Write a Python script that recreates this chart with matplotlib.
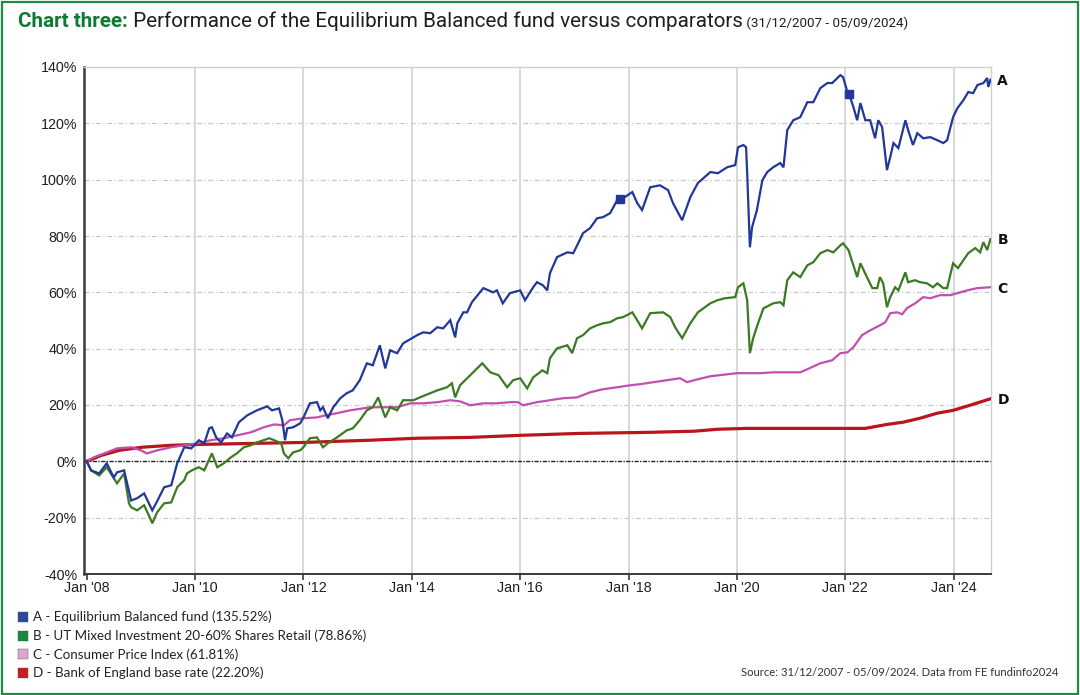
"""Chart three: Equilibrium Balanced fund vs comparators, 31/12/2007 - 05/09/2024."""
import matplotlib
matplotlib.use("Agg")
import matplotlib.pyplot as plt
import numpy as np
from matplotlib.patches import Rectangle

# ---------------------------------------------------------------- data (%)
# A - Equilibrium Balanced fund
t_a = [2008.00, 2008.08, 2008.23, 2008.37, 2008.50, 2008.56, 2008.69, 2008.82,
       2008.93, 2009.06, 2009.21, 2009.28, 2009.43, 2009.56, 2009.67, 2009.80,
       2009.93, 2010.07, 2010.17, 2010.26, 2010.31, 2010.39, 2010.48, 2010.59,
       2010.68, 2010.81, 2010.96, 2011.14, 2011.33, 2011.42, 2011.55, 2011.61,
       2011.66, 2011.70, 2011.81, 2011.94, 2012.00, 2012.12, 2012.25, 2012.31,
       2012.36, 2012.45, 2012.55, 2012.68, 2012.80, 2012.91, 2013.04, 2013.17,
       2013.28, 2013.41, 2013.51, 2013.60, 2013.73, 2013.84, 2014.10, 2014.21,
       2014.34, 2014.47, 2014.58, 2014.71, 2014.80, 2014.84, 2014.95, 2015.02,
       2015.11, 2015.32, 2015.50, 2015.57, 2015.68, 2015.81, 2016.00, 2016.09,
       2016.24, 2016.31, 2016.42, 2016.50, 2016.55, 2016.68, 2016.87, 2016.98,
       2017.07, 2017.16, 2017.29, 2017.42, 2017.53, 2017.66, 2017.79, 2017.90,
       2018.07, 2018.16, 2018.25, 2018.40, 2018.58, 2018.73, 2018.82, 2018.99,
       2019.14, 2019.28, 2019.51, 2019.65, 2019.82, 2019.97, 2020.02, 2020.12,
       2020.17, 2020.19, 2020.24, 2020.28, 2020.37, 2020.47, 2020.56, 2020.67,
       2020.80, 2020.86, 2020.93, 2021.04, 2021.17, 2021.30, 2021.41, 2021.54,
       2021.67, 2021.76, 2021.91, 2021.96, 2022.04, 2022.09, 2022.15, 2022.22,
       2022.28, 2022.37, 2022.46, 2022.55, 2022.61, 2022.68, 2022.77, 2022.83,
       2022.89, 2022.98, 2023.11, 2023.16, 2023.25, 2023.33, 2023.44, 2023.57,
       2023.70, 2023.81, 2023.88, 2023.99, 2024.07, 2024.18, 2024.27, 2024.36,
       2024.44, 2024.55, 2024.62, 2024.64, 2024.68]
v_a = [0.0, -3.2, -4.3, -0.7, -5.7, -3.9, -3.2, -13.9,
       -13.1, -11.4, -17.4, -14.9, -9.2, -8.5, -0.7, 5.0,
       4.6, 7.5, 6.4, 11.7, 12.1, 8.5, 6.7, 9.9,
       8.5, 13.9, 16.3, 18.1, 19.5, 18.1, 18.8, 14.6,
       7.5, 11.7, 12.1, 13.5, 15.6, 20.6, 21.0, 18.1,
       19.2, 15.3, 19.2, 22.4, 24.2, 25.2, 28.8, 34.8,
       34.1, 41.2, 33.0, 39.4, 38.4, 41.9, 44.8, 45.8,
       45.5, 47.6, 47.2, 50.1, 44.0, 49.0, 52.9, 52.9,
       56.5, 61.5, 60.0, 60.7, 56.1, 59.7, 60.7, 57.2,
       61.8, 63.6, 62.5, 60.7, 66.8, 72.5, 74.2, 73.9,
       77.4, 81.0, 82.8, 86.3, 86.7, 88.1, 92.7, 93.4,
       95.6, 91.7, 89.2, 97.3, 98.0, 96.3, 91.7, 85.6,
       93.8, 98.8, 102.7, 102.3, 104.4, 105.2, 111.5, 112.3,
       111.5, 102.3, 76.0, 83.1, 89.2, 99.8, 102.7, 104.4,
       105.9, 104.4, 117.6, 121.1, 122.2, 127.5, 127.5, 132.5,
       134.3, 134.3, 137.1, 136.4, 131.1, 129.3, 125.8, 121.1,
       127.2, 121.1, 121.1, 114.7, 121.1, 118.7, 103.4, 108.0,
       113.0, 111.2, 121.1, 117.6, 112.3, 116.5, 114.7, 115.1,
       114.0, 113.0, 114.0, 122.2, 125.4, 128.2, 131.1, 130.7,
       133.6, 134.3, 136.1, 132.9, 135.5]

# B - UT Mixed Investment 20-60% Shares Retail
t_b = [2008.00, 2008.08, 2008.23, 2008.37, 2008.56, 2008.69, 2008.78, 2008.82,
       2008.93, 2009.06, 2009.19, 2009.21, 2009.30, 2009.43, 2009.56, 2009.67,
       2009.80, 2009.85, 2009.94, 2010.07, 2010.17, 2010.31, 2010.41, 2010.53,
       2010.66, 2010.77, 2010.90, 2011.03, 2011.14, 2011.37, 2011.46, 2011.59,
       2011.64, 2011.72, 2011.81, 2011.94, 2012.00, 2012.12, 2012.25, 2012.36,
       2012.45, 2012.62, 2012.80, 2012.91, 2013.04, 2013.17, 2013.28, 2013.38,
       2013.51, 2013.60, 2013.73, 2013.84, 2014.03, 2014.15, 2014.34, 2014.47,
       2014.65, 2014.74, 2014.80, 2014.89, 2015.08, 2015.30, 2015.45, 2015.60,
       2015.76, 2015.87, 2016.00, 2016.13, 2016.24, 2016.41, 2016.50, 2016.55,
       2016.68, 2016.87, 2016.96, 2017.05, 2017.16, 2017.29, 2017.42, 2017.53,
       2017.66, 2017.79, 2017.90, 2018.07, 2018.16, 2018.25, 2018.40, 2018.64,
       2018.77, 2018.86, 2018.99, 2019.14, 2019.28, 2019.51, 2019.64, 2019.78,
       2019.97, 2020.02, 2020.12, 2020.19, 2020.24, 2020.30, 2020.39, 2020.49,
       2020.67, 2020.80, 2020.86, 2020.93, 2021.04, 2021.17, 2021.30, 2021.41,
       2021.54, 2021.67, 2021.78, 2021.91, 2021.96, 2022.06, 2022.15, 2022.22,
       2022.28, 2022.40, 2022.50, 2022.59, 2022.64, 2022.70, 2022.77, 2022.83,
       2022.92, 2022.98, 2023.11, 2023.16, 2023.29, 2023.38, 2023.51, 2023.62,
       2023.70, 2023.81, 2023.88, 2023.99, 2024.08, 2024.18, 2024.27, 2024.40,
       2024.49, 2024.55, 2024.62, 2024.68]
v_b = [0.0, -3.2, -5.0, -2.1, -7.8, -4.3, -14.9, -16.3,
       -17.4, -15.6, -21.0, -22.0, -18.1, -14.9, -14.6, -9.2,
       -6.7, -4.3, -3.2, -2.1, -3.2, 2.8, -2.1, -0.7,
       1.4, 2.8, 5.0, 5.7, 6.7, 8.2, 7.5, 6.4,
       2.8, 1.1, 3.2, 3.9, 5.0, 8.2, 8.5, 5.0,
       6.4, 8.5, 11.0, 11.7, 14.6, 18.1, 19.2, 22.7,
       15.6, 19.2, 18.1, 21.7, 21.7, 22.7, 24.2, 25.2,
       26.3, 27.7, 22.7, 27.0, 30.6, 34.8, 31.6, 30.6,
       26.3, 28.8, 29.5, 25.9, 29.8, 32.3, 31.3, 36.6,
       40.1, 41.2, 38.4, 43.7, 44.8, 47.2, 48.3, 49.0,
       49.4, 50.8, 51.2, 52.9, 50.1, 47.2, 52.6, 52.9,
       51.2, 47.6, 43.7, 49.0, 52.9, 56.1, 57.2, 57.9,
       58.3, 61.8, 63.2, 57.2, 38.4, 43.7, 49.0, 54.3,
       56.1, 56.5, 55.4, 64.3, 67.1, 65.4, 69.6, 70.7,
       73.9, 75.0, 74.2, 76.7, 77.4, 75.0, 69.6, 65.4,
       70.3, 65.4, 61.5, 61.5, 65.4, 63.2, 54.7, 58.3,
       61.8, 60.7, 67.1, 63.6, 64.3, 63.6, 63.2, 61.8,
       63.2, 61.5, 61.5, 70.3, 68.6, 71.4, 73.9, 75.7,
       74.2, 77.8, 75.0, 78.9]

# C - Consumer Price Index
t_c = [2008.00, 2008.13, 2008.32, 2008.56, 2008.82, 2009.00, 2009.11, 2009.30,
       2009.56, 2009.80, 2010.04, 2010.29, 2010.53, 2010.77, 2011.03, 2011.27,
       2011.46, 2011.64, 2011.75, 2012.00, 2012.25, 2012.40, 2012.62, 2012.86,
       2013.10, 2013.23, 2013.47, 2013.73, 2013.97, 2014.21, 2014.47, 2014.71,
       2014.89, 2015.08, 2015.32, 2015.57, 2015.81, 2015.96, 2016.05, 2016.31,
       2016.55, 2016.79, 2017.05, 2017.29, 2017.53, 2017.79, 2018.03, 2018.22,
       2018.46, 2018.71, 2018.95, 2019.08, 2019.27, 2019.51, 2019.82, 2020.00,
       2020.19, 2020.43, 2020.67, 2020.93, 2021.17, 2021.30, 2021.54, 2021.76,
       2021.91, 2022.04, 2022.15, 2022.31, 2022.46, 2022.64, 2022.74, 2022.83,
       2022.96, 2023.05, 2023.14, 2023.29, 2023.44, 2023.57, 2023.75, 2023.94,
       2024.07, 2024.25, 2024.44, 2024.68]
v_c = [0.0, 1.4, 2.8, 4.6, 5.0, 3.9, 2.8, 3.9,
       5.0, 5.7, 6.4, 7.5, 8.2, 9.2, 10.3, 12.1,
       13.1, 12.8, 14.6, 15.3, 15.6, 16.3, 17.1, 18.1,
       18.8, 19.2, 19.2, 19.2, 20.6, 20.6, 21.0, 21.7,
       21.3, 19.9, 20.6, 20.6, 21.0, 21.0, 19.9, 21.0,
       21.7, 22.4, 22.7, 24.5, 25.6, 26.3, 27.0, 27.4,
       28.1, 28.8, 29.5, 28.1, 29.1, 30.2, 30.9, 31.3,
       31.3, 31.3, 31.6, 31.6, 31.6, 32.7, 34.8, 35.9,
       38.4, 38.7, 40.5, 44.8, 46.5, 48.3, 49.4, 52.6,
       52.9, 52.2, 54.4, 56.1, 58.3, 57.9, 59.0, 59.0,
       59.7, 60.7, 61.5, 61.8]

# D - Bank of England base rate
t_d = [2008.00, 2008.27, 2008.60, 2009.02, 2009.56, 2010.09, 2011.16, 2012.00,
       2013.23, 2014.10, 2015.08, 2015.96, 2017.07, 2018.40, 2019.21, 2019.65,
       2020.19, 2022.37, 2022.77, 2023.07, 2023.38, 2023.70, 2023.99, 2024.30,
       2024.68]
v_d = [0.0, 2.1, 3.9, 5.0, 5.7, 6.0, 6.4, 6.7,
       7.5, 8.2, 8.5, 9.2, 9.9, 10.3, 10.7, 11.4,
       11.7, 11.7, 13.1, 13.9, 15.3, 17.1, 18.1, 19.9,
       22.2]

markers_a = [2017.85, 2022.06]          # small square markers on fund line

labels = ["A", "B", "C", "D"]
names = ["A - Equilibrium Balanced fund (135.52%)",
         "B - UT Mixed Investment 20-60% Shares Retail (78.86%)",
         "C - Consumer Price Index (61.81%)",
         "D - Bank of England base rate (22.20%)"]
line_colors = ["#22379a", "#3b7a22", "#c24fae", "#b8161a"]
key_colors = ["#2b4a9c", "#178a3c", "#dca6cf", "#c41f1c"]
line_widths = [1.6, 1.6, 1.6, 2.3]

y_ticks = list(range(-40, 141, 20))
x_ticks = list(range(2008, 2025, 2))

# ---------------------------------------------------------------- figure
fig = plt.figure(figsize=(10.8, 6.95), dpi=100)
ax = fig.add_axes([84 / 1080, 1 - 574 / 695, 907 / 1080, 507 / 695])

series = [(t_a, v_a), (t_b, v_b), (t_c, v_c), (t_d, v_d)]
for (t, v), c, lw in zip(series[::-1], line_colors[::-1], line_widths[::-1]):
    ax.plot(t, v, color=c, lw=lw, solid_joinstyle="miter", zorder=3)

ax.plot(markers_a, np.interp(markers_a, t_a, v_a), "s", color=line_colors[0],
        ms=5.5, zorder=4)

for (t, v), lab in zip(series, labels):
    ax.annotate(lab, (t[-1], v[-1]), xytext=(5, -1), textcoords="offset points",
                va="center", ha="left", fontsize=10, fontweight="bold",
                family="DejaVu Sans", color="#111111")

ax.set_xlim(2007.95, 2024.69)
ax.set_ylim(-40, 140)
ax.set_yticks(y_ticks)
ax.set_yticklabels([f"{v}%" for v in y_ticks])
ax.set_xticks(x_ticks)
ax.set_xticklabels([f"Jan '{y % 100:02d}" for y in x_ticks])

for v in y_ticks[1:-1]:
    if v == 0:
        ax.axhline(0, color="#222222", lw=1.0, ls=(0, (3, 1, 1, 1)), zorder=2)
    else:
        ax.axhline(v, color="#c9c9c9", lw=0.9, ls=(0, (4, 2, 1, 2)), zorder=1)
for x in x_ticks[1:]:
    ax.axvline(x, color="#d2d2d2", lw=1.2, zorder=1)

for s in ["top", "right"]:
    ax.spines[s].set_color("#d0d0d0")
    ax.spines[s].set_linewidth(1.0)
ax.spines["left"].set_color("#3a3a3a")
ax.spines["left"].set_linewidth(1.8)
ax.spines["bottom"].set_color("#3a3a3a")
ax.spines["bottom"].set_linewidth(1.4)

ax.tick_params(axis="y", length=0, pad=5, labelsize=10.3, labelcolor="#1e1e1e")
ax.tick_params(axis="x", length=4, width=1.2, color="#3a3a3a", pad=1,
               labelsize=10.3, labelcolor="#1e1e1e")
for lab in ax.get_xticklabels() + ax.get_yticklabels():
    lab.set_family("Liberation Sans")

# ---------------------------------------------------------------- title
fig.canvas.draw()
r = fig.canvas.get_renderer()
ty = 1 - 27 / 695
x0 = 18 / 1080
pieces = [("Chart three:", "#0e7a33", "bold", 14.9),
          (" Performance of the Equilibrium Balanced fund versus comparators",
           "#1e1e1e", "normal", 14.9),
          (" (31/12/2007 - 05/09/2024)", "#1e1e1e", "normal", 9.6)]
for txt, col, w, fs in pieces:
    t = fig.text(x0, ty, txt, color=col, fontweight=w, fontsize=fs,
                 family="Roboto", va="baseline", ha="left")
    bb = t.get_window_extent(renderer=r)
    x0 += bb.width / fig.bbox.width

# ---------------------------------------------------------------- key
for i, (nm, kc) in enumerate(zip(names, key_colors)):
    yc = 1 - (617 + 18.7 * i) / 695
    fig.patches.append(Rectangle((18 / 1080, yc - 5 / 695), 10 / 1080, 10 / 695,
                                 transform=fig.transFigure, color=kc,
                                 ec="#555555", lw=0.3))
    fig.text(33 / 1080, yc, nm, fontsize=9.65, family="Lato", color="#222222",
             va="center", ha="left")

fig.text(1058 / 1080, 1 - 673 / 695,
         "Source: 31/12/2007 - 05/09/2024. Data from FE fundinfo2024",
         fontsize=8.1, family="Lato", color="#333333", va="center", ha="right")

fig.patches.append(Rectangle((0.0015, 0.002), 0.9965, 0.995,
                             transform=fig.transFigure, fill=False,
                             ec="#1d8c44", lw=1.6))

fig.savefig("out.png", dpi=100)
